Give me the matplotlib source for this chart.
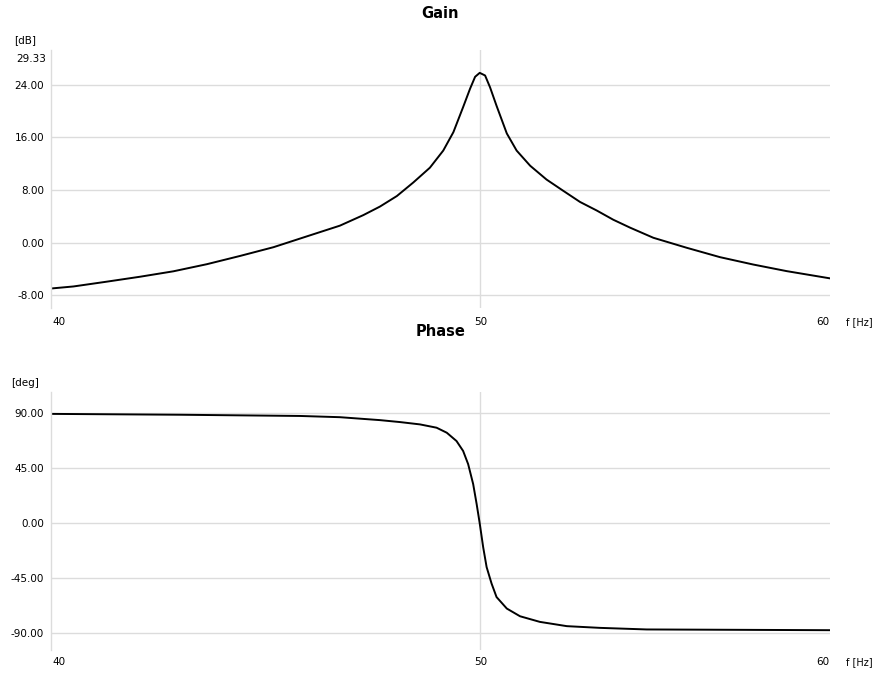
import matplotlib
matplotlib.use("Agg")
import matplotlib.pyplot as plt
from matplotlib.ticker import FixedLocator, NullLocator

# ---- data ----
gain_freq = [40.0, 40.47, 41.18, 41.90, 42.63, 43.38, 44.14, 44.91, 45.69, 46.49,
             47.06, 47.47, 47.89, 48.30, 48.72, 49.06, 49.32, 49.57, 49.75, 49.88,
             50.0, 50.14, 50.27, 50.44, 50.71, 50.97, 51.33, 51.77, 52.22, 52.68,
             53.14, 53.60, 54.07, 54.73, 55.69, 56.66, 57.65, 58.66, 60.0]
gain_db = [-6.94, -6.63, -5.9, -5.15, -4.33, -3.25, -1.99, -0.67, 0.96, 2.6,
           4.2, 5.5, 7.1, 9.15, 11.4, 14.0, 16.8, 20.6, 23.4, 25.2,
           25.8, 25.4, 23.6, 20.8, 16.6, 14.0, 11.7, 9.6, 7.9, 6.2,
           4.9, 3.5, 2.3, 0.76, -0.76, -2.18, -3.3, -4.3, -5.4]

phase_freq = [40.0, 42.78, 45.54, 46.49, 47.47, 47.97, 48.47, 48.89, 49.15, 49.40,
              49.57, 49.70, 49.83, 49.92, 50.0, 50.09, 50.18, 50.31, 50.44, 50.71,
              51.06, 51.59, 52.32, 53.23, 54.54, 60.0]
phase_deg = [89.5, 88.8, 87.8, 86.8, 84.4, 82.8, 80.9, 78.2, 74.1, 67.3,
             59.2, 48.4, 32.1, 15.8, 0.0, -19.5, -35.8, -49.3, -60.3, -69.7,
             -76.0, -80.6, -84.1, -85.5, -86.8, -87.4]

x_tick_labels = ["40", "50", "60"]
gain_ticks = [-8.0, 0.0, 8.0, 16.0, 24.0]
gain_top_label = "29.33"
phase_ticks = [-90.0, -45.0, 0.0, 45.0, 90.0]

W, H = 881, 675
fig = plt.figure(figsize=(W / 100, H / 100), dpi=100)
fig.patch.set_facecolor("white")

GRID = "#dcdcdc"
FONT = "DejaVu Sans"
TS = 7.5


def px_axes(left, top, right, bottom):
    return fig.add_axes([left / W, 1 - bottom / H, (right - left) / W, (bottom - top) / H])


def style(ax, ylim, yticks, title, title_y, unit, unit_y, xlab_y):
    ax.set_xscale("log")
    ax.set_xlim(40, 60)
    ax.set_ylim(*ylim)
    ax.xaxis.set_major_locator(FixedLocator([50]))
    ax.xaxis.set_minor_locator(NullLocator())
    ax.yaxis.set_major_locator(FixedLocator(yticks))
    ax.grid(True, color=GRID, linewidth=1.0)
    ax.set_axisbelow(True)
    for s in ["top", "right", "bottom"]:
        ax.spines[s].set_visible(False)
    ax.spines["left"].set_color(GRID)
    ax.spines["left"].set_linewidth(1.0)
    ax.tick_params(axis="both", length=0)
    ax.set_xticklabels([])
    ax.set_yticklabels(["%.2f" % v for v in yticks], fontsize=TS, family=FONT)
    ax.tick_params(axis="y", pad=5)
    fig.text(440.5 / W, 1 - title_y / H, title, ha="center", va="center",
             fontsize=10.5, fontweight="bold", family=FONT)
    yy = 1 - xlab_y / H
    fig.text(52 / W, yy, x_tick_labels[0], ha="left", va="center", fontsize=TS, family=FONT)
    fig.text(481 / W, yy, x_tick_labels[1], ha="center", va="center", fontsize=TS, family=FONT)
    fig.text(829 / W, yy, x_tick_labels[2], ha="right", va="center", fontsize=TS, family=FONT)
    fig.text(846 / W, yy, "f [Hz]", ha="left", va="center", fontsize=7, family=FONT)
    fig.text(25 / W, 1 - unit_y / H, unit, ha="center", va="center", fontsize=TS, family=FONT)


ax1 = px_axes(51, 49.6, 830, 308)
ax1.plot(gain_freq, gain_db, color="black", linewidth=1.4)
style(ax1, (-9.9, 29.33), gain_ticks, "Gain", 13, "[dB]", 40, 322)
fig.text(46 / W, 1 - 59 / H, gain_top_label, ha="right", va="center", fontsize=TS, family=FONT)

ax2 = px_axes(51, 392, 830, 650)
ax2.plot(phase_freq, phase_deg, color="black", linewidth=1.4)
style(ax2, (-103.6, 107.4), phase_ticks, "Phase", 331, "[deg]", 383, 662)

fig.savefig("out.png", dpi=100, facecolor="white")
